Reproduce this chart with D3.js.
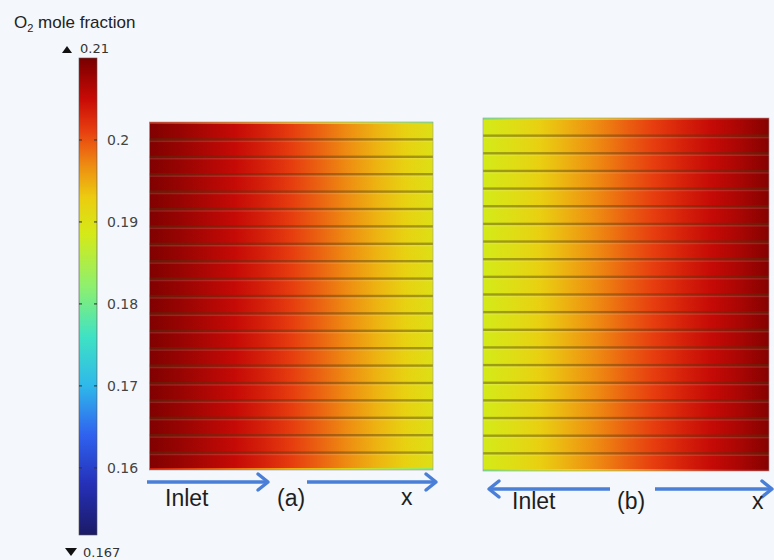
<!DOCTYPE html>
<html>
<head>
<meta charset="utf-8">
<script src="https://cdn.jsdelivr.net/npm/d3@7"></script>
<style>
  body { margin: 0; background: #f4f7fb; }
  svg { display: block; }
</style>
</head>
<body>
<svg id="chart" width="774" height="560"></svg>
<script>
// data: O2 mole fraction sampled across the channel length (x = 0..1)
const xSamples = [0, 0.1, 0.2, 0.3, 0.4, 0.5, 0.6, 0.7, 0.8, 0.9, 1.0];
const profileA = [0.2095, 0.2082, 0.2067, 0.2052, 0.2034, 0.2013, 0.1991, 0.1968, 0.1945, 0.1922, 0.1902];
const profileB = [0.1885, 0.1903, 0.1925, 0.1948, 0.1970, 0.1992, 0.2013, 0.2033, 0.2052, 0.2070, 0.2092];
// edge rows (top/bottom wall) are slightly depleted
const edgeA = [0.203, 0.201, 0.199, 0.197, 0.195, 0.193, 0.191, 0.189, 0.186, 0.183, 0.180];
const edgeB = [0.178, 0.182, 0.186, 0.189, 0.191, 0.194, 0.197, 0.200, 0.203, 0.205, 0.207];
const channelCount = 20;

// colour legend
const legendTicks = [0.16, 0.17, 0.18, 0.19, 0.2];
const legendMin = 0.1518, legendMax = 0.21;
const dataMaxLabel = "0.21", dataMinLabel = "0.167";

// rainbow colour map stops (value -> colour)
const cmapValues = [0.1518, 0.158, 0.164, 0.170, 0.176, 0.182, 0.1885, 0.193, 0.197, 0.201, 0.205, 0.21];
const cmapColors = ["#1b1a66", "#2530b8", "#2f62ef", "#2fb8ea", "#3fe2c4", "#8cf070", "#d4ea18", "#eccc10", "#ee8a12", "#e84010", "#c80a06", "#780000"];

const color = d3.scaleLinear().domain(cmapValues).range(cmapColors).clamp(true);

const svg = d3.select("#chart");
const defs = svg.append("defs");

svg.append("rect").attr("width", 774).attr("height", 560).attr("fill", "#f4f7fb");

// ---- colour bar ----
const bar = { x: 79, w: 18, top: 58, bottom: 535 };
const yLegend = d3.scaleLinear().domain([legendMin, legendMax]).range([bar.bottom, bar.top]);

const lg = defs.append("linearGradient").attr("id", "cbar")
  .attr("x1", 0).attr("y1", 1).attr("x2", 0).attr("y2", 0);
lg.selectAll("stop").data(cmapValues).join("stop")
  .attr("offset", d => (d - legendMin) / (legendMax - legendMin))
  .attr("stop-color", d => color(d));

svg.append("rect")
  .attr("x", bar.x).attr("y", bar.top)
  .attr("width", bar.w).attr("height", bar.bottom - bar.top)
  .attr("fill", "url(#cbar)")
  .attr("stroke", "#555").attr("stroke-width", 0.6);

// little tick marks on both inner edges of the bar
legendTicks.forEach(t => {
  [bar.x, bar.x + bar.w - 3].forEach(x0 => {
    svg.append("line")
      .attr("x1", x0).attr("x2", x0 + 3)
      .attr("y1", yLegend(t)).attr("y2", yLegend(t))
      .attr("stroke", "#333").attr("stroke-width", 1.5).attr("opacity", 0.7);
  });
});

const axis = svg.append("g")
  .attr("transform", `translate(${bar.x + bar.w + 8},0)`)
  .call(d3.axisRight(yLegend).tickValues(legendTicks).tickSize(0).tickPadding(2).tickFormat(d3.format("")));
axis.select(".domain").remove();
axis.selectAll("text")
  .attr("font-family", "DejaVu Sans, sans-serif")
  .attr("font-size", 14)
  .attr("fill", "#444");

svg.append("text")
  .attr("x", 14).attr("y", 28)
  .attr("font-family", "Liberation Sans, Arial, sans-serif")
  .attr("font-size", 17).attr("fill", "#222")
  .call(t => {
    t.append("tspan").text("O");
    t.append("tspan").attr("font-size", 11).attr("dy", 4).text("2");
    t.append("tspan").attr("dy", -4).text(" mole fraction");
  });

svg.append("path").attr("d", "M62,53 L67,46 L72,53 Z").attr("fill", "#111");
svg.append("text").attr("x", 80).attr("y", 53)
  .attr("font-family", "DejaVu Sans, sans-serif").attr("font-size", 13).attr("fill", "#333")
  .text(dataMaxLabel);
svg.append("path").attr("d", "M65,548 L77,548 L71,556 Z").attr("fill", "#111");
svg.append("text").attr("x", 83).attr("y", 557)
  .attr("font-family", "DejaVu Sans, sans-serif").attr("font-size", 13).attr("fill", "#333")
  .text(dataMinLabel);

// ---- panels ----
const panels = [
  { id: "a", x0: 149.5, x1: 433, y0: 122, y1: 470, profile: profileA, edge: edgeA },
  { id: "b", x0: 483, x1: 769, y0: 118, y1: 471, profile: profileB, edge: edgeB }
];

panels.forEach(p => {
  const xs = d3.scaleLinear().domain([0, 1]).range([p.x0, p.x1]);
  const ys = d3.scaleLinear().domain([0, channelCount]).range([p.y0, p.y1]);

  const g = defs.append("linearGradient").attr("id", "grad" + p.id)
    .attr("gradientUnits", "userSpaceOnUse")
    .attr("x1", p.x0).attr("x2", p.x1).attr("y1", 0).attr("y2", 0);
  g.selectAll("stop").data(xSamples).join("stop")
    .attr("offset", d => d)
    .attr("stop-color", (d, i) => color(p.profile[i]));

  const ge = defs.append("linearGradient").attr("id", "edge" + p.id)
    .attr("gradientUnits", "userSpaceOnUse")
    .attr("x1", p.x0).attr("x2", p.x1).attr("y1", 0).attr("y2", 0);
  ge.selectAll("stop").data(xSamples).join("stop")
    .attr("offset", d => d)
    .attr("stop-color", (d, i) => color(p.edge[i]));

  svg.append("rect")
    .attr("x", xs(0)).attr("y", ys(0))
    .attr("width", xs(1) - xs(0)).attr("height", ys(channelCount) - ys(0))
    .attr("fill", `url(#grad${p.id})`);

  // wall strips top and bottom
  [ys(0), ys(channelCount) - 2].forEach(y => {
    svg.append("rect")
      .attr("x", xs(0)).attr("y", y)
      .attr("width", xs(1) - xs(0)).attr("height", 2)
      .attr("fill", `url(#edge${p.id})`).attr("opacity", 0.8);
  });

  // ribs between channels
  const ribs = d3.range(1, channelCount);
  svg.selectAll(null).data(ribs).join("rect")
    .attr("x", xs(0)).attr("y", d => ys(d) - 1.2)
    .attr("width", xs(1) - xs(0)).attr("height", 2.4)
    .attr("fill", "#4a3a10").attr("opacity", 0.42);
  svg.selectAll(null).data(ribs).join("rect")
    .attr("x", xs(0)).attr("y", d => ys(d) + 1.2)
    .attr("width", xs(1) - xs(0)).attr("height", 1.5)
    .attr("fill", "#ffffff").attr("opacity", 0.12);

  svg.append("rect")
    .attr("x", xs(0)).attr("y", ys(0))
    .attr("width", xs(1) - xs(0)).attr("height", ys(channelCount) - ys(0))
    .attr("fill", "none").attr("stroke", "#9a9a9a").attr("stroke-width", 0.6);
});

// ---- arrows and labels ----
const arrowColor = "#4a7fd8";
function arrow(x1, x2, y, heads) {
  svg.append("line").attr("x1", x1).attr("x2", x2).attr("y1", y).attr("y2", y)
    .attr("stroke", arrowColor).attr("stroke-width", 3.5);
  heads.forEach(h => {
    const xh = h === "right" ? x2 : x1;
    const dir = h === "right" ? -1 : 1;
    svg.append("path")
      .attr("d", `M${xh + dir * 10},${y - 8} L${xh},${y} L${xh + dir * 10},${y + 8}`)
      .attr("fill", "none").attr("stroke", arrowColor).attr("stroke-width", 3.5)
      .attr("stroke-linecap", "round").attr("stroke-linejoin", "round");
  });
}
arrow(147, 268, 482, ["right"]);
arrow(307, 436, 482, ["right"]);
arrow(489, 610, 489, ["left"]);
arrow(655, 772, 489, ["right"]);

const labels = [
  { x: 165, y: 506, t: "Inlet" },
  { x: 277, y: 506, t: "(a)" },
  { x: 401, y: 505, t: "x" },
  { x: 512, y: 509, t: "Inlet" },
  { x: 617, y: 509, t: "(b)" },
  { x: 752, y: 509, t: "x" }
];
svg.selectAll(null).data(labels).join("text")
  .attr("x", d => d.x).attr("y", d => d.y)
  .attr("font-family", "Liberation Sans, Arial, sans-serif")
  .attr("font-size", 23).attr("fill", "#1e1e1e")
  .text(d => d.t);
</script>
</body>
</html>
